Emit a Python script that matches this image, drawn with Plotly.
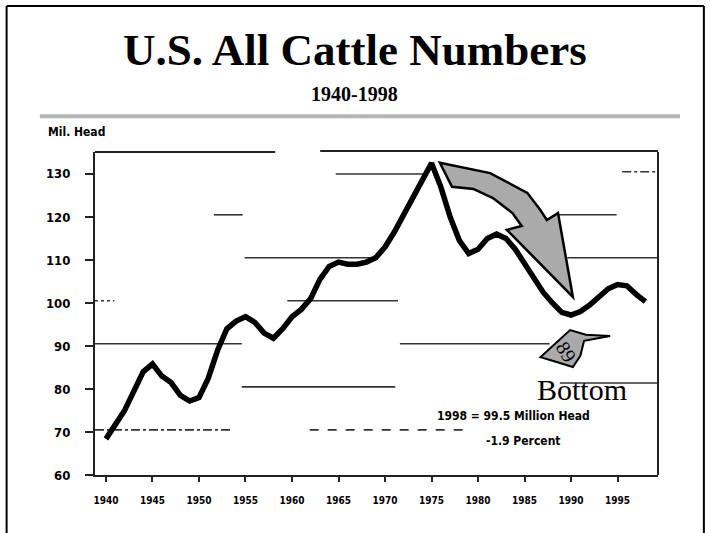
import plotly.graph_objects as go

# ---- data ----
years = list(range(1940, 1999))
cattle_mil_head = [
    68.4, 71.5, 75.0, 79.5, 84.0, 85.8, 83.0, 81.5, 78.5, 77.2,
    78.0, 82.5, 89.0, 94.0, 95.8, 96.8, 95.5, 93.0, 91.8, 94.0,
    96.8, 98.5, 101.0, 105.5, 108.5, 109.5, 109.0, 109.0, 109.5, 110.5,
    113.0, 116.5, 120.5, 124.5, 129.0, 132.5, 127.0, 120.0, 114.5, 111.5,
    112.5, 115.0, 116.0, 115.0, 112.5, 109.0, 105.5, 102.5, 100.0, 97.8,
    97.2, 98.0, 99.5, 101.5, 103.3, 104.3, 104.0, 102.0, 100.3,
]
x_tick_vals = [1940, 1945, 1950, 1955, 1960, 1965, 1970, 1975, 1980, 1985, 1990, 1995]
x_tick_text = ["1940", "1945", "1950", "1955", "1960", "1965", "1970", "1975", "1980", "1985", "1990", "1995"]
y_tick_vals = [60, 70, 80, 90, 100, 110, 120, 130]
y_tick_text = ["60", "70", "80", "90", "100", "110", "120", "130"]

title_text = "U.S. All Cattle Numbers"
subtitle_text = "1940-1998"
unit_text = "Mil. Head"
note_line1 = "1998 = 99.5 Million Head"
note_line2 = "-1.9 Percent"
bottom_label = "Bottom"
bottom_year = "89"

# broken grid fragments of the scanned chart: (value, from year, to year, dash)
grid_fragments = [
    (130.0, 1964.7, 1974.1, "solid"), (130.5, 1995.5, 1999.35, "dashdot"),
    (120.5, 1951.6, 1954.7, "solid"), (120.5, 1988.6, 1994.9, "solid"),
    (110.5, 1954.9, 1968.6, "solid"), (110.5, 1989.6, 1999.35, "solid"),
    (100.5, 1938.82, 1940.9, "dot"), (100.5, 1959.5, 1971.4, "solid"),
    (90.5, 1938.82, 1954.6, "solid"), (90.5, 1971.6, 1987.7, "solid"),
    (80.5, 1954.6, 1971.1, "solid"), (81.4, 1988.8, 1999.35, "solid"),
    (70.5, 1938.82, 1953.5, "dashdot"), (70.5, 1961.9, 1978.8, "dash"),
]

# decorative arrows (data units)
big_arrow = [
    (1975.9, 132.6), (1981.3, 130.2), (1985.3, 125.6), (1986.7, 121.6),
    (1987.4, 119.3), (1988.6, 120.9), (1990.2, 101.4), (1983.1, 117.0),
    (1984.7, 117.9), (1983.7, 120.9), (1981.6, 124.4), (1979.5, 126.5),
    (1977.2, 127.0),
]
small_arrow = [
    (1986.7, 87.4), (1989.9, 93.7), (1991.6, 92.6), (1994.2, 92.3),
    (1991.4, 91.2), (1991.0, 87.7), (1990.2, 85.1), (1988.1, 86.5),
]

X_RANGE = [1938.82, 1999.35]
Y_RANGE = [60, 135.1]

SERIF = "Liberation Serif, Times New Roman, serif"
NARROW = "Liberation Sans Narrow, Arial Narrow, DejaVu Sans Condensed, Liberation Sans, Arial, sans-serif"

fig = go.Figure()
fig.add_trace(go.Scatter(
    x=years, y=cattle_mil_head, mode="lines",
    line=dict(color="black", width=5.5),
    hoverinfo="skip", showlegend=False,
))

shapes = []
for val, x0, x1, dash in grid_fragments:
    shapes.append(dict(type="line", xref="x", yref="y", x0=x0, x1=x1, y0=val, y1=val,
                       line=dict(color="#333333", width=1.6, dash=dash), layer="below"))

def poly_path(pts):
    return "M " + " L ".join(f"{x},{y}" for x, y in pts) + " Z"

shapes.append(dict(type="path", xref="x", yref="y", path=poly_path(big_arrow),
                   fillcolor="#aaaaaa", line=dict(color="black", width=2.5)))
shapes.append(dict(type="path", xref="x", yref="y", path=poly_path(small_arrow),
                   fillcolor="#aaaaaa", line=dict(color="black", width=2)))

# plot frame: right side and broken top
shapes.append(dict(type="line", xref="paper", yref="paper", x0=1, x1=1, y0=0, y1=1,
                   line=dict(color="#222222", width=2)))
shapes.append(dict(type="line", xref="paper", yref="paper", x0=0, x1=0.32, y0=1, y1=1,
                   line=dict(color="#222222", width=2)))
shapes.append(dict(type="line", xref="paper", yref="paper", x0=0.40, x1=1, y0=1.003, y1=1.003,
                   line=dict(color="#222222", width=2)))

# slide border and gray rule
shapes.append(dict(type="line", xref="paper", yref="paper", x0=-0.157, x1=-0.157, y0=-0.2, y1=1.452,
                   line=dict(color="black", width=2)))
shapes.append(dict(type="line", xref="paper", yref="paper", x0=-0.157, x1=1.0815, y0=1.452, y1=1.452,
                   line=dict(color="black", width=2)))
shapes.append(dict(type="line", xref="paper", yref="paper", x0=1.0815, x1=1.0815, y0=-0.2, y1=1.452,
                   line=dict(color="black", width=2)))
shapes.append(dict(type="line", xref="paper", yref="paper", x0=-0.098, x1=1.039, y0=1.111, y1=1.111,
                   line=dict(color="#b4b4b4", width=4)))

annotations = [
    dict(text=f"<b>{title_text}</b>", xref="paper", yref="paper", x=0.4618, y=1.315,
         xanchor="center", yanchor="middle", showarrow=False,
         font=dict(family=SERIF, size=45, color="black")),
    dict(text=f"<b>{subtitle_text}</b>", xref="paper", yref="paper", x=0.4618, y=1.181,
         xanchor="center", yanchor="middle", showarrow=False,
         font=dict(family=SERIF, size=20, color="black")),
    dict(text=f"<b>{unit_text}</b>", xref="paper", yref="paper", x=-0.087, y=1.062,
         xanchor="left", yanchor="middle", showarrow=False,
         font=dict(family=NARROW, size=12, color="black")),
    dict(text=f"<b>{note_line1}</b>", xref="x", yref="y", x=1983.8, y=73.7,
         xanchor="center", yanchor="middle", showarrow=False,
         font=dict(family=NARROW, size=12, color="black")),
    dict(text=f"<b>{note_line2}</b>", xref="x", yref="y", x=1984.9, y=67.9,
         xanchor="center", yanchor="middle", showarrow=False,
         font=dict(family=NARROW, size=12, color="black")),
    dict(text=bottom_label, xref="x", yref="y", x=1991.2, y=79.8,
         xanchor="center", yanchor="middle", showarrow=False,
         font=dict(family=SERIF, size=30, color="black")),
    dict(text=bottom_year, xref="x", yref="y", x=1989.5, y=88.6, textangle=58,
         xanchor="center", yanchor="middle", showarrow=False,
         font=dict(family=SERIF, size=20, color="black")),
]

fig.update_layout(
    width=711, height=533,
    margin=dict(l=95, r=53, t=152, b=58),
    paper_bgcolor="white", plot_bgcolor="white",
    showlegend=False,
    shapes=shapes, annotations=annotations,
    xaxis=dict(range=X_RANGE, tickvals=x_tick_vals, ticktext=x_tick_text,
               showgrid=False, zeroline=False, showline=True, linecolor="#222222", linewidth=2,
               ticks="outside", ticklen=5, tickwidth=1.5, tickcolor="#222222",
               ticklabelstandoff=10,
               tickfont=dict(family=NARROW, size=10, color="black", weight="bold")),
    yaxis=dict(range=Y_RANGE, tickvals=y_tick_vals, ticktext=y_tick_text,
               showgrid=False, zeroline=False, showline=True, linecolor="#222222", linewidth=2,
               ticks="outside", ticklen=8, tickwidth=1.5, tickcolor="#222222",
               ticklabelstandoff=12,
               tickfont=dict(family=NARROW, size=13, color="black", weight="bold")),
)

fig.write_html("out.html", config={"displayModeBar": False},
               post_script="document.body.style.margin='0px';")
